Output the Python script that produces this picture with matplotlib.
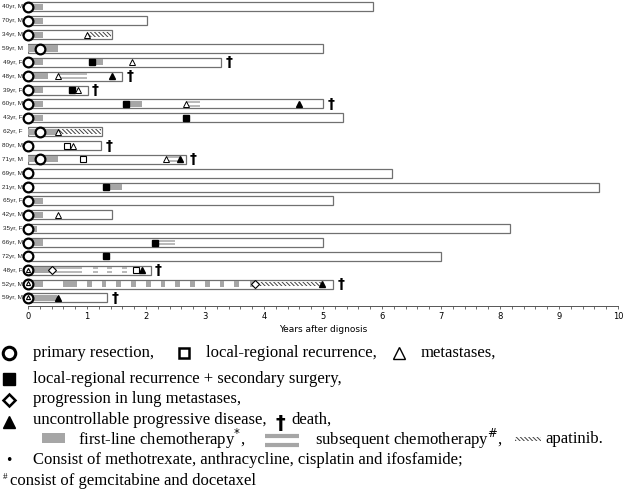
import matplotlib.pyplot as plt
from matplotlib.patches import Rectangle
from matplotlib.ticker import MultipleLocator

# patients, top to bottom
patients = ["40yr, M", "70yr, M", "34yr, M", "59yr, M", "49yr, F", "48yr, M",
            "39yr, F", "60yr, M", "43yr, F", "62yr, F", "80yr, M", "71yr, M",
            "69yr, M", "21yr, M", "65yr, F", "42yr, M", "35yr, F", "66yr, M",
            "72yr, M", "48yr, F", "52yr, M", "59yr, M"]
follow_up = [5.85, 2.02, 1.42, 5.0, 3.27, 1.6, 1.01, 5.0, 5.34, 1.25, 1.24, 2.67,
             6.17, 9.67, 5.17, 1.42, 8.17, 5.0, 7.0, 2.08, 5.17, 1.34]
died = [0, 0, 0, 0, 1, 1, 1, 1, 0, 0, 1, 1, 0, 0, 0, 0, 0, 0, 0, 1, 1, 1]
resection = [0, 0, 0, 0.21, 0, 0, 0, 0, 0, 0.21, 0, 0.21,
             0, 0, 0, 0, 0, 0, 0, 0, 0, 0]
mets_at_resection = [19, 20, 21]

# (patient index, start, end) in years
first_line = [(0, 0, 0.25), (1, 0, 0.25), (2, 0, 0.25), (3, 0, 0.5), (4, 0, 0.25),
              (4, 1.09, 1.27), (5, 0, 0.34), (6, 0, 0.25), (7, 0, 0.25), (7, 1.66, 1.93),
              (8, 0, 0.25), (9, 0, 0.5), (11, 0, 0.5), (13, 1.33, 1.59), (14, 0, 0.25),
              (15, 0, 0.25), (16, 0, 0.16), (17, 0, 0.25), (19, 0, 0.41), (20, 0, 0.25),
              (20, 0.6, 0.83), (20, 1.0, 1.08), (20, 1.25, 1.33), (20, 1.5, 1.58),
              (20, 1.75, 1.83), (20, 2.0, 2.08), (20, 2.25, 2.33), (20, 2.5, 2.58),
              (20, 2.75, 2.83), (20, 3.0, 3.08), (20, 3.25, 3.33), (20, 3.5, 3.58),
              (20, 3.76, 3.84), (21, 0, 0.49)]
subsequent = [(5, 0.5, 1.0), (7, 2.67, 2.92), (11, 2.34, 2.58), (17, 2.16, 2.5),
              (19, 0.41, 0.91), (19, 1.10, 1.18), (19, 1.34, 1.42), (19, 1.60, 1.68)]
apatinib = [(2, 1.0, 1.4), (9, 0.5, 1.24), (20, 3.85, 4.99)]

# (patient index, time) events
local_rec = [(10, 0.66), (11, 0.93), (19, 1.83)]
local_rec_surgery = [(4, 1.09), (6, 0.74), (7, 1.66), (8, 2.67), (13, 1.33),
                     (17, 2.16), (18, 1.33)]
metastases = [(2, 1.0), (4, 1.76), (5, 0.5), (6, 0.84), (7, 2.67), (9, 0.5),
              (10, 0.76), (11, 2.34), (15, 0.5)]
lung_progression = [(19, 0.41), (20, 3.85)]
progressive = [(5, 1.42), (7, 4.59), (11, 2.58), (19, 1.93), (20, 4.99), (21, 0.5)]

n = len(patients)
row = lambda i: n - 1 - i
grey = '#a6a6a6'
plt.rcParams['hatch.linewidth'] = 0.7

fig = plt.figure(figsize=(6.25, 4.94), dpi=100)
ax = fig.add_axes([28 / 625, 188 / 494, 590 / 625, 306 / 494])

ax.barh([row(i) for i in range(n)], follow_up, height=0.65, left=0,
        color='white', edgecolor='#707070', linewidth=0.9, zorder=1)

for i, s, e in first_line:
    ax.barh(row(i), e - s, left=s, height=0.45, color=grey, linewidth=0, zorder=2)
for i, s, e in subsequent:
    ax.hlines([row(i) - 0.14, row(i) + 0.14], s, e, color=grey, linewidth=1.1, zorder=2)
for i, s, e in apatinib:
    ax.barh(row(i), e - s, left=s, height=0.32, color='white', edgecolor='#404040',
            hatch='\\\\\\\\\\\\\\\\', linewidth=0, zorder=2)

for i in range(n):
    ax.plot(resection[i], row(i), 'o', ms=7, mfc='white', mec='black', mew=1.6,
            zorder=4, clip_on=False)
    ax.text(-0.09, row(i), patients[i], ha='right', va='center', fontsize=4.6,
            family='Liberation Sans', color='#222222')
    if died[i]:
        ax.text(follow_up[i] + 0.13, row(i), '\u2020', ha='center', va='center',
                fontsize=10, fontweight='bold')
for i in mets_at_resection:
    ax.plot(0, row(i) + 0.05, '^', ms=3, mfc='white', mec='black', mew=0.8,
            zorder=5, clip_on=False)

def events(data, **kw):
    ax.plot([t for _, t in data], [row(i) for i, _ in data], ls='none', zorder=3,
            clip_on=False, **kw)

events(local_rec, marker='s', ms=4.3, mfc='white', mec='black', mew=0.8)
events(local_rec_surgery, marker='s', ms=4.5, mfc='black', mec='black')
events(metastases, marker='^', ms=4.5, mfc='white', mec='black', mew=0.7)
events(lung_progression, marker='D', ms=3.6, mfc='white', mec='black', mew=0.8)
events(progressive, marker='^', ms=4.5, mfc='black', mec='black')

ax.set_xlim(0, 10)
ax.set_ylim(-0.58, n - 0.5)
for s in ['left', 'right', 'top']:
    ax.spines[s].set_visible(False)
ax.spines['bottom'].set_color('#555555')
ax.spines['bottom'].set_linewidth(0.7)
ax.set_yticks([])
ax.xaxis.set_major_locator(MultipleLocator(1))
ax.xaxis.set_minor_locator(MultipleLocator(0.2))
ax.tick_params(axis='x', which='both', direction='out', length=2.2, width=0.6,
               color='#555555', labelsize=6, pad=2)
ax.set_xlabel('Years after dignosis', fontsize=6.5, labelpad=3)
ax.patch.set_visible(False)

# legend drawn in pixel coordinates below the chart
leg = fig.add_axes([0, 0, 1, 1])
leg.set_xlim(0, 625)
leg.set_ylim(494, 0)
leg.axis('off')
leg.patch.set_visible(False)
tf = dict(fontsize=12, family='Liberation Serif', va='center', ha='left')
renderer = fig.canvas.get_renderer()

def put(x, y, s):
    t = leg.text(x, y, s, **tf)
    return x + t.get_window_extent(renderer).width

leg.plot(9, 353, 'o', ms=9, mfc='white', mec='black', mew=2.2)
x = put(33, 353, 'primary resection,')
leg.plot(x + 30, 353, 's', ms=7.5, mfc='white', mec='black', mew=1.8)
x = put(x + 52, 353, 'local-regional recurrence,')
leg.plot(x + 22, 353, '^', ms=8.5, mfc='white', mec='black', mew=1)
put(x + 44, 353, 'metastases,')

leg.plot(9, 379, 's', ms=8, mfc='black', mec='black')
put(33, 379, 'local-regional recurrence + secondary surgery,')
leg.plot(9, 400, 'D', ms=6.5, mfc='white', mec='black', mew=1.8)
put(33, 399, 'progression in lung metastases,')
leg.plot(9, 422, '^', ms=8.5, mfc='black', mec='black')
x = put(33, 420, 'uncontrollable progressive disease,')
leg.text(x + 14, 423, '\u2020', fontsize=14, fontweight='bold', ha='center', va='center')
put(x + 25, 420, 'death,')

leg.add_patch(Rectangle((42, 433), 23, 10, color=grey, lw=0))
x = put(78, 439, 'first-line chemotherapy$^{*}$,')
leg.hlines([436, 445], x + 20, x + 54, color=grey, linewidth=3)
x = put(x + 70, 439, 'subsequent chemotherapy$^{\\#}$,')
leg.add_patch(Rectangle((x + 12, 437), 26, 4, facecolor='white', edgecolor='#404040',
                        hatch='\\\\\\\\\\\\\\\\', lw=0))
put(x + 42, 439, 'apatinib.')

leg.text(9, 460, '\u2022', ha='center', va='center', fontsize=9)
put(33, 460, 'Consist of methotrexate, anthracycline, cisplatin and ifosfamide;')
leg.text(3, 477, '#', fontsize=6.5, family='Liberation Serif', va='center', ha='left')
put(10, 481, 'consist of gemcitabine and docetaxel')

fig.savefig('out.png', dpi=100)
